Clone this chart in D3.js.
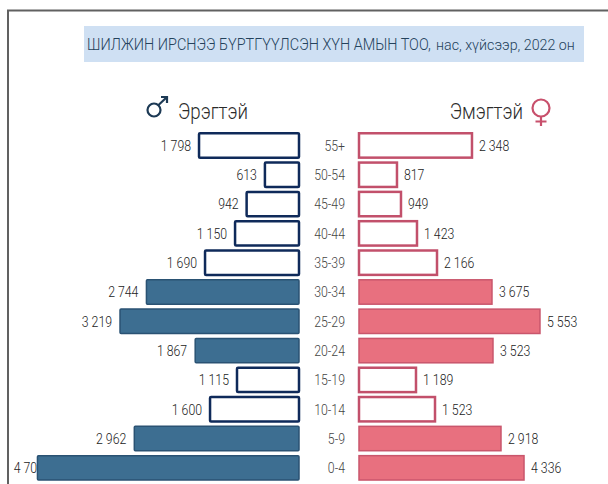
<!DOCTYPE html>
<html>
<head>
<meta charset="utf-8">
<script src="https://cdn.jsdelivr.net/npm/d3@7"></script>
<style>
    body { margin: 0; background: #fff; }
    svg { display: block; font-family: Roboto, sans-serif; font-weight: 300; }
</style>
</head>
<body>
<div id="chart"></div>
<script>
const ages = ['55+', '50-54', '45-49', '40-44', '35-39', '30-34', '25-29', '20-24', '15-19', '10-14', '5-9', '0-4'];
const maleValues = [1798, 613, 942, 1150, 1690, 2744, 3219, 1867, 1115, 1600, 2962, 4704];
const femaleValues = [2348, 817, 949, 1423, 2166, 3675, 5553, 3523, 1189, 1523, 2918, 4336];
// the female bars in the picture are not drawn to their printed numbers,
// so their lengths are read separately, in the units of the male side
const femaleBarLengths = [2032, 683, 755, 1043, 1403, 2392, 3255, 2410, 1025, 1367, 2554, 2968];
const filledAges = ['30-34', '25-29', '20-24', '5-9', '0-4'];

const width = 608;
const height = 484;
const maleBase = 299;
const femaleBase = 359;
const unit = 0.0556; // px per person

const svg = d3.select("#chart").append("svg")
    .attr("width", width)
    .attr("height", height);

const y = d3.scaleBand()
    .domain(ages)
    .range([130.8, 482.5])
    .paddingInner(0.1)
    .paddingOuter(0.05);

const xMale = d3.scaleLinear().domain([0, 5000]).range([maleBase, maleBase - 5000 * unit]);
const xFemale = d3.scaleLinear().domain([0, 5000]).range([femaleBase, femaleBase + 5000 * unit]);

const formatValue = d => d3.format(",")(d).replace(",", " ");

// Roboto is wider than the picture's font, so squeeze the text horizontally
function condense(sel, ratio) {
    sel.each(function() {
        const len = this.getComputedTextLength();
        d3.select(this).attr("textLength", len * ratio).attr("lengthAdjust", "spacingAndGlyphs");
    });
}

// Squeeze a text to an exact width with a transform
function fitTitle(sel, x, baseline, targetWidth) {
    sel.each(function() {
        const ratio = targetWidth / this.getComputedTextLength();
        d3.select(this).attr("transform", `translate(${x},${baseline}) scale(${ratio},1)`);
    });
}

// Frame
svg.append("path")
    .attr("d", `M8,${height}V10.5H${width}`)
    .attr("fill", "none")
    .attr("stroke", "#616161")
    .attr("stroke-width", 2);

// Title, the lower case end of it is set smaller
svg.append("rect")
    .attr("x", 84).attr("y", 26)
    .attr("width", 500).attr("height", 36)
    .attr("fill", "#cfe0f3");

svg.append("text")
    .attr("font-size", 16)
    .attr("fill", "#24425c")
    .text("ШИЛЖИН ИРСНЭЭ БҮРТГҮҮЛСЭН ХҮН АМЫН ТОО,")
    .call(fitTitle, 87, 50, 344);

svg.append("text")
    .attr("font-size", 14)
    .attr("fill", "#24425c")
    .text("нас, хүйсээр, 2022  он")
    .call(fitTitle, 436, 50, 139);

// Gender headers
svg.append("text").attr("x", 178).attr("y", 119)
    .attr("font-size", 22).attr("fill", "#2b2b2b")
    .text("Эрэгтэй").call(condense, 0.85);

svg.append("text").attr("x", 523).attr("y", 119)
    .attr("text-anchor", "end")
    .attr("font-size", 22).attr("fill", "#2b2b2b")
    .text("Эмэгтэй").call(condense, 0.85);

const maleSign = svg.append("g").attr("fill", "none").attr("stroke", "#1d3a55").attr("stroke-width", 2.2);
maleSign.append("circle").attr("cx", 154).attr("cy", 110).attr("r", 6.5);
maleSign.append("path").attr("d", "M158.5,105L167,97M161,97H167V103");

const femaleSign = svg.append("g").attr("fill", "none").attr("stroke", "#c8506c").attr("stroke-width", 2.2);
femaleSign.append("circle").attr("cx", 541).attr("cy", 108).attr("r", 8.5);
femaleSign.append("path").attr("d", "M541,116.5V126M535.5,121.5H546.5");

// Age labels
svg.selectAll(".age")
    .data(ages)
    .enter()
    .append("text")
    .attr("class", "age")
    .attr("x", 345)
    .attr("y", d => y(d) + y.bandwidth() / 2)
    .attr("dy", "0.36em")
    .attr("text-anchor", "end")
    .attr("font-size", 15)
    .attr("fill", "#444")
    .text(d => d)
    .call(condense, 0.82);

const rows = ages.map((age, i) => ({
    age,
    male: maleValues[i],
    female: femaleValues[i],
    femaleBar: femaleBarLengths[i],
    filled: filledAges.includes(age)
}));

// Male labels go first: the bottom bar covers part of its number in the picture,
// its label is kept from running past the frame
svg.selectAll(".male-label")
    .data(rows)
    .enter()
    .append("text")
    .attr("class", "male-label")
    .attr("x", d => Math.max(xMale(d.male) - 8, 44))
    .attr("y", d => y(d.age) + y.bandwidth() / 2)
    .attr("dy", "0.36em")
    .attr("text-anchor", "end")
    .attr("font-size", 15)
    .attr("fill", "#222")
    .text(d => formatValue(d.male))
    .call(condense, 0.82);

// Male bars
svg.selectAll(".male-bar")
    .data(rows)
    .enter()
    .append("rect")
    .attr("class", "male-bar")
    .attr("x", d => xMale(d.male))
    .attr("y", d => y(d.age) + 1)
    .attr("width", d => maleBase - xMale(d.male))
    .attr("height", y.bandwidth() - 2)
    .attr("rx", 1)
    .attr("fill", d => d.filled ? "#3d6e91" : "#fff")
    .attr("stroke", d => d.filled ? "#2a5273" : "#0f2a5a")
    .attr("stroke-width", d => d.filled ? 1.5 : 2.5);

// Female bars
svg.selectAll(".female-bar")
    .data(rows)
    .enter()
    .append("rect")
    .attr("class", "female-bar")
    .attr("x", femaleBase)
    .attr("y", d => y(d.age) + 1)
    .attr("width", d => xFemale(d.femaleBar) - femaleBase)
    .attr("height", y.bandwidth() - 2)
    .attr("fill", d => d.filled ? "#e8707f" : "#fff")
    .attr("stroke", d => d.filled ? "#c9566c" : "#c2506b")
    .attr("stroke-width", d => d.filled ? 1.5 : 2.5);

// Female labels
svg.selectAll(".female-label")
    .data(rows)
    .enter()
    .append("text")
    .attr("class", "female-label")
    .attr("x", d => xFemale(d.femaleBar) + 7)
    .attr("y", d => y(d.age) + y.bandwidth() / 2)
    .attr("dy", "0.36em")
    .attr("font-size", 15)
    .attr("fill", "#222")
    .text(d => formatValue(d.female))
    .call(condense, 0.82);
</script>
</body>
</html>
